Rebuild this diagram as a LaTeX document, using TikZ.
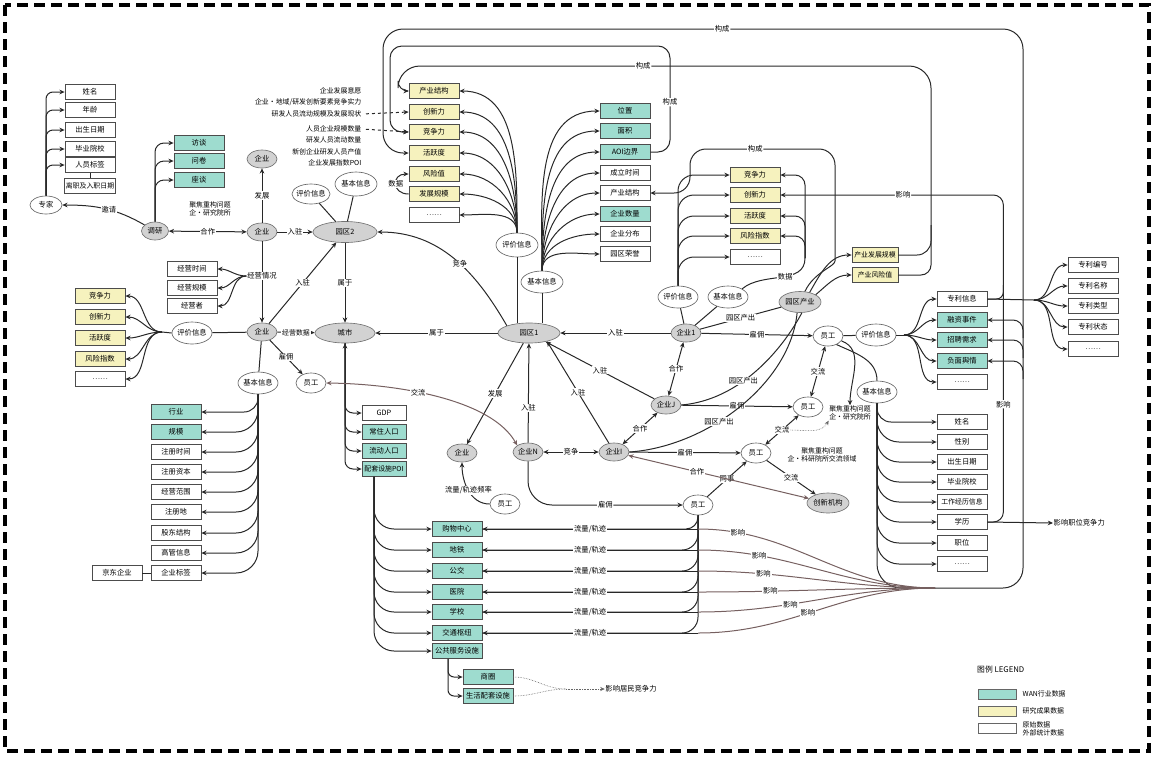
\documentclass[tikz,border=0pt]{standalone}
\usepackage{fontspec}
\setmainfont{Noto Sans CJK SC}
\usetikzlibrary{arrows.meta,shapes.geometric,calc}
\definecolor{tealc}{RGB}{158,220,207}
\definecolor{yelc}{RGB}{246,242,190}
\definecolor{ellg}{RGB}{210,210,210}
\definecolor{linec}{RGB}{40,40,40}
\definecolor{inflc}{RGB}{118,96,96}
\newcommand\myfs{\fontsize{7.3}{8}\selectfont}
\newcommand\smfs{\fontsize{6.9}{7.6}\selectfont}
\tikzset{
 box/.style={rectangle,draw=black!70,line width=0.75pt,minimum width=50pt,minimum height=15pt,inner sep=1pt,font=\myfs,fill=white},
 tbox/.style={box,fill=tealc},
 ybox/.style={box,fill=yelc},
 gell/.style={ellipse,draw=black!55,line width=0.65pt,fill=ellg,inner sep=-1.5pt,font=\myfs,minimum width=30pt,minimum height=18pt},
 well/.style={ellipse,draw=black!60,line width=0.65pt,fill=white,inner sep=-1.5pt,font=\myfs,minimum width=40pt,minimum height=22pt},
 wsm/.style={well,minimum width=30pt,minimum height=20pt},
 lbl/.style={fill=white,inner sep=0.8pt,font=\myfs},
 txt/.style={font=\smfs,inner sep=0.5pt,align=center},
 con/.style={draw=linec,line width=1pt},
 arr/.style={con,-{Stealth[length=5.2pt,width=4.6pt]}},
 arrS/.style={con,{Stealth[length=5.2pt,width=4.6pt]}-},
 darr/.style={con,{Stealth[length=5.2pt,width=4.6pt]}-{Stealth[length=5.2pt,width=4.6pt]}},
 infl/.style={draw=inflc,line width=1pt},
 dotl/.style={draw=black!60,line width=0.6pt,densely dotted},
}
\begin{document}
\begin{tikzpicture}[x=1pt,y=-1pt]
\path[use as bounding box] (0,0) rectangle (1154,756);
\draw[line width=3.5pt,dash pattern=on 11pt off 6pt] (5,5) rectangle (1149,751);

% ================= left cluster =================
\node[box] (L1) at (90,92) {姓名};
\node[box] (L2) at (90,110) {年龄};
\node[box] (L3) at (90,130) {出生日期};
\node[box] (L4) at (90,149) {毕业院校};
\node[box] (L5) at (90,165) {人员标签};
\node[box,font=\smfs] (L6) at (90,186) {离职及入职日期};
\draw[con] (L5) -- (L6);
\node[well,minimum width=32pt,minimum height=18pt] (zj) at (46,205) {专家};
\foreach \b in {L1,L2,L3,L4,L5} \draw[arr,rounded corners=7pt] (zj.north) |- (\b.west);

\node[gell,minimum width=27pt] (dy) at (155,231) {调研};
\node[tbox] (T01) at (199,143) {访谈};
\node[tbox] (T02) at (199,161) {问卷};
\node[tbox] (T03) at (199,180) {座谈};
\foreach \b in {T01,T02,T03} \draw[arr,rounded corners=9pt] (dy.north) |- (\b.west);
\draw[arr] (dy.150) to[out=150,in=0] node[lbl,pos=0.45]{邀请} (zj.east);

\node[gell] (qyA) at (262,159) {企业};
\node[gell] (qyB) at (262,232) {企业};
\node[gell] (qyC) at (262,332) {企业};
\draw[darr] (dy) -- node[lbl]{合作} (qyB);
\node[txt] (t1) at (210,209) {聚焦重构问题\\企·研究院所};
\draw[arr] (qyB) -- node[lbl]{发展} (qyA);
\node[gell,minimum width=64pt,minimum height=21pt] (yq2) at (345,232) {园区2};
\draw[arr] (qyB) -- node[lbl]{入驻} (yq2);
\node[well,minimum width=38pt,minimum height=20pt] (pj2) at (311,194) {评价信息};
\node[well,minimum width=42pt,minimum height=24pt] (jb2) at (356,184) {基本信息};
\draw[con] (pj2) -- (yq2);
\draw[con] (jb2) -- (yq2);
\node[gell,minimum width=60pt,minimum height=20pt] (cs) at (345,333) {城市};
\draw[arr] (yq2) -- node[lbl]{属于} (cs);
\draw[arr] (qyC) -- node[lbl]{入驻} (yq2);
\draw[arr] (qyC) -- node[lbl,font=\smfs]{经营数据} (cs);

\draw[arr] (qyB) -- (qyC);
\node[lbl] (jyqk) at (262,276) {经营情况};
\node[box] (JY1) at (192,269) {经营时间};
\node[box] (JY2) at (192,288) {经营规模};
\node[box] (JY3) at (192,306) {经营者};
\foreach \b in {JY1,JY2,JY3} \draw[arr] (jyqk.west) to[out=180,in=0] (\b.east);

\node[well] (pj3) at (192,333) {评价信息};
\draw[con] (pj3) -- (qyC);
\coordinate (f3) at (162,332);
\draw[con] (pj3.west) -- (f3);
\node[ybox] (Y31) at (100,296) {竞争力};
\node[ybox] (Y32) at (100,317) {创新力};
\node[ybox] (Y33) at (100,338) {活跃度};
\node[ybox] (Y34) at (100,359) {风险指数};
\node[box] (Y35) at (100,379) {……};
\foreach \b in {Y31,Y32,Y33,Y34,Y35} \draw[arr] (f3) to[out=180,in=0] (\b.east);

\node[well] (jb3) at (258,383) {基本信息};
\draw[con] (qyC) -- (jb3);
\node[wsm] (yg1) at (311,383) {员工};
\draw[arr] (qyC) -- node[lbl]{雇佣} (yg1);
\node[tbox] (B31) at (176,412) {行业};
\node[tbox] (B32) at (176,432) {规模};
\node[box] (B33) at (176,452) {注册时间};
\node[box] (B34) at (176,472) {注册资本};
\node[box] (B35) at (176,492) {经营范围};
\node[box] (B36) at (176,512) {注册地};
\node[box] (B37) at (176,533) {股东结构};
\node[box] (B38) at (176,553) {高管信息};
\node[box] (B39) at (176,573) {企业标签};
\foreach \b/\r in {B31/14,B32/22,B33/22,B34/22,B35/22,B36/22,B37/22,B38/22,B39/22}
  \draw[arr,rounded corners=\r pt] (jb3.south) |- (\b.east);
\node[box] (jd) at (117,573) {京东企业};
\draw[con] (jd) -- (B39);

% ================= city boxes =================
\node[box,minimum width=44pt] (C1) at (384,413) {GDP};
\node[tbox,minimum width=44pt] (C2) at (384,432) {常住人口};
\node[tbox,minimum width=44pt] (C3) at (384,451) {流动人口};
\node[tbox,minimum width=44pt,font=\smfs] (C4) at (384,469) {配套设施POI};
\foreach \b in {C1,C2,C3,C4} \draw[arr,rounded corners=8pt] (cs.south) |- (\b.west);
\draw[arrS] (cs.south) -- ++(0,12);

\node[tbox] (F1) at (457,529) {购物中心};
\node[tbox] (F2) at (457,550) {地铁};
\node[tbox] (F3) at (457,571) {公交};
\node[tbox] (F4) at (457,592) {医院};
\node[tbox] (F5) at (457,612) {学校};
\node[tbox] (F6) at (457,633) {交通枢纽};
\node[tbox] (F7) at (457,651) {公共服务设施};
\coordinate (poi) at ($(C4.south)+(-10,0)$);
\foreach \b in {F1,F2,F3,F4,F5,F6,F7} \draw[arr,rounded corners=20pt] (poi) |- (\b.west);
\node[tbox] (S1) at (488,677) {商圈};
\node[tbox] (S2) at (488,696) {生活配套设施};
\coordinate (f7s) at ($(F7.south)+(-9,0)$);
\foreach \b in {S1,S2} \draw[arr,rounded corners=6pt] (f7s) |- (\b.west);
\node[txt,font=\myfs] (yxjz) at (631,689) {影响居民竞争力};
\coordinate (sm) at (566,689);
\draw[dotl] (S1.east) to[out=0,in=180] (sm);
\draw[dotl] (S2.east) to[out=0,in=180] (sm);
\draw[dotl,-{Stealth[length=4.5pt,width=4pt]}] (sm) -- (yxjz.west);

% ================= centre =================
\node[gell,minimum width=62pt,minimum height=20pt] (yq1) at (529,333) {园区1};
\draw[arr] (yq1) -- node[lbl]{属于} (cs);
\draw[arr] (yq1.north west) to[out=120,in=0] node[lbl,pos=0.45]{竞争} (yq2.east);

\node[ybox] (Y11) at (434,91) {产业结构};
\node[ybox] (Y12) at (434,112) {创新力};
\node[ybox] (Y13) at (434,132) {竞争力};
\node[ybox] (Y14) at (434,153) {活跃度};
\node[ybox] (Y15) at (434,174) {风险值};
\node[ybox] (Y16) at (434,194) {发展规模};
\node[box] (Y17) at (434,215) {……};
\node[well,minimum width=42pt,minimum height=24pt] (pj1) at (517,245) {评价信息};
\foreach \b in {Y11,Y12,Y13,Y14,Y15,Y16,Y17} \draw[arr] (pj1.north) to[out=90,in=0] (\b.east);
\draw[con] (pj1.south) -- (pj1.south |- yq1.north);

\node[tbox] (T11) at (625,111) {位置};
\node[tbox] (T12) at (625,131) {面积};
\node[tbox] (T13) at (625,152) {AOI边界};
\node[box] (T14) at (625,173) {成立时间};
\node[box] (T15) at (625,193) {产业结构};
\node[tbox] (T16) at (625,214) {企业数量};
\node[box] (T17) at (625,234) {企业分布};
\node[box] (T18) at (625,254) {园区荣誉};
\node[well,minimum width=42pt,minimum height=22pt] (jb1) at (542,282) {基本信息};
\foreach \b in {T11,T12,T13,T14,T15,T16,T17,T18} \draw[arr] (jb1.north) to[out=90,in=180] (\b.west);
\draw[con] (jb1.south) -- (jb1.south |- yq1.north);

\node[txt,anchor=east] (tA1) at (362,91) {企业发展意愿};
\node[txt,anchor=east] (tA2) at (362,102) {企业·地域/研发创新要素竞争实力};
\node[txt,anchor=east] (tA3) at (362,114) {研发人员流动规模及发展现状};
\node[txt,anchor=east] (tB1) at (362,129) {人员企业规模数量};
\node[txt,anchor=east] (tB2) at (362,140) {研发人员流动数量};
\node[txt,anchor=east] (tB3) at (362,152) {新创企业研发人员产值};
\node[txt,anchor=east] (tB4) at (362,163) {企业发展指数POI};
\draw[arr,dashed,shorten <=4pt] (tA3.east) -- (Y12.west);
\draw[arr,dashed,shorten <=4pt] (tB1.east) -- (Y13.west);
\draw[arr] (Y16.west) to[out=180,in=180,looseness=2.2] node[lbl,pos=0.5]{数据} (Y15.west);

% ================= enterprises =================
\node[gell] (q1) at (686,333) {企业1};
\node[gell] (qJ) at (666,405) {企业J};
\node[gell] (qI) at (614,452) {企业I};
\node[gell] (qN) at (528,452) {企业N};
\node[gell] (qx) at (462,453) {企业};
\node[wsm] (yg5) at (505,504) {员工};
\node[wsm] (yg4) at (698,505) {员工};
\node[wsm] (yg1b) at (828,336) {员工};
\node[wsm] (yg2) at (808,407) {员工};
\node[wsm] (yg3) at (756,453) {员工};
\node[gell,minimum width=42pt,minimum height=20pt] (cx) at (828,503) {创新机构};
\node[gell,minimum width=42pt,minimum height=21pt] (yqcy) at (800,302) {园区产业};
\node[well] (pj1b) at (678,297) {评价信息};
\node[well] (jb1b) at (728,297) {基本信息};

\draw[arr] (q1) -- node[lbl]{入驻} (yq1);
\draw[arr] (q1) -- node[lbl]{雇佣} (yg1b);
\draw[darr] (q1) -- node[lbl]{合作} (qJ);
\draw[arr] (qJ) -- node[lbl]{入驻} (yq1);
\draw[arr] (qJ) -- node[lbl]{雇佣} (yg2);
\draw[arr] (qI.120) -- node[lbl]{入驻} (yq1.-25);
\draw[darr] (qI) -- node[lbl]{合作} (qJ);
\draw[arr] (qI) -- node[lbl]{雇佣} (yg3);
\draw[darr] (qN) -- node[lbl]{竞争} (qI);
\draw[arr] (qN) -- node[lbl,pos=0.35]{入驻} (yq1);
\draw[arr] (yq1) -- node[lbl]{发展} (qx);
\draw[arr] (yg5.west) to[out=180,in=-90] node[lbl,pos=0.5]{流量/轨迹频率} (qx.south);
\draw[con] (q1) -- node[lbl]{园区产出} (yqcy);
\draw[con] (qJ.east) .. controls (740,400) and (782,350) .. node[lbl,pos=0.4]{园区产出} (yqcy.-80);
\draw[con] (qI.east) .. controls (705,447) and (790,385) .. node[lbl,pos=0.4]{园区产出} (yqcy.-105);
\draw[con] (pj1b) -- (q1);
\draw[con] (jb1b) -- (q1);
\draw[arr,rounded corners=24pt] (qN.south) |- node[lbl,pos=0.75]{雇佣} (yg4.west);
\draw[arr] (yg4) -- node[lbl]{同事} (yg3);
\draw[darr,draw=inflc] (cx) -- node[lbl,pos=0.62]{合作} (qI);
\draw[arr] (yg3) -- node[lbl]{交流} (cx);
\draw[darr] (yg2) -- node[lbl] (jl2) {交流} (yg3);
\draw[darr] (yg1b) -- node[lbl]{交流} (yg2);
\node[txt] (tx1) at (822,455) {聚焦重构问题\\企·科研院所交流领域};
\node[txt] (tx2) at (850,413) {聚焦重构问题\\企·研究院所};
\draw[dotl,-{Stealth[length=4.5pt,width=4pt]}] (jl2.east) to[out=0,in=-120] (tx2.south west);
\draw[arr] (yg1b.-20) to[out=-20,in=90] (tx2.north);
\draw[darr,draw=inflc] (yg1.east) .. controls (400,384) and (492,400) .. node[lbl,pos=0.4]{交流} (qN.north west);

% yellow boxes of enterprise 1
\node[ybox] (Y1b1) at (755,175) {竞争力};
\node[ybox] (Y1b2) at (755,195) {创新力};
\node[ybox] (Y1b3) at (755,216) {活跃度};
\node[ybox] (Y1b4) at (755,236) {风险指数};
\node[box] (Y1b5) at (755,257) {……};
\foreach \b in {Y1b1,Y1b2,Y1b3,Y1b4,Y1b5} \draw[arr,rounded corners=16pt] (pj1b.north) |- (\b.west);
\coordinate (sj) at (805,258);
\draw[con] (jb1b.30) to[out=40,in=-90] node[lbl,pos=0.55]{数据} (sj);
\foreach \b in {Y1b1,Y1b3,Y1b4} \draw[arr,rounded corners=10pt] (sj) |- (\b.east);

\node[ybox,minimum width=46pt,font=\smfs] (CY1) at (875,255) {产业发展规模};
\node[ybox,minimum width=46pt,font=\smfs] (CY2) at (875,275) {产业风险值};
\draw[arr] (yqcy.45) to[out=60,in=180] (CY1.west);
\draw[arr] (yqcy.25) to[out=40,in=180] (CY2.west);

% ================= right side =================
\node[well] (pjR) at (876,335) {评价信息};
\node[well] (jbR) at (877,392) {基本信息};
\draw[con] (yg1b) -- (pjR);
\draw[con] (yg1b.-45) to[out=-25,in=90] (jbR.north);
\node[box] (ZL) at (962,299) {专利信息};
\node[tbox] (R2) at (962,320) {融资事件};
\node[tbox] (R3) at (962,340) {招聘需求};
\node[tbox] (R4) at (962,361) {负面舆情};
\node[box] (R5) at (962,382) {……};
\coordinate (pjf) at (904,335);
\draw[con] (pjR.east) -- (pjf);
\foreach \b in {ZL,R2,R3,R4,R5} \draw[arr] (pjf) to[out=0,in=180] (\b.west);
\coordinate (zlf) at (1034,300);
\draw[con] (ZL.east) -- (zlf);
\node[box] (Z1) at (1093,265) {专利编号};
\node[box] (Z2) at (1093,286) {专利名称};
\node[box] (Z3) at (1093,306) {专利类型};
\node[box] (Z4) at (1093,327) {专利状态};
\node[box] (Z5) at (1093,349) {……};
\foreach \b in {Z1,Z2,Z3,Z4,Z5} \draw[arr] (zlf) to[out=0,in=180] (\b.west);

\node[box] (P1) at (962,422) {姓名};
\node[box] (P2) at (962,442) {性别};
\node[box] (P3) at (962,462) {出生日期};
\node[box] (P4) at (962,482) {毕业院校};
\node[box,font=\smfs] (P5) at (962,502) {工作经历信息};
\node[box] (P6) at (962,522) {学历};
\node[box] (P7) at (962,543) {职位};
\node[box] (P8) at (962,564) {……};
\foreach \b/\r in {P1/14,P2/22,P3/22,P4/22,P5/22,P6/22,P7/22,P8/22}
  \draw[arr,rounded corners=\r pt] (jbR.south) |- (\b.west);
\node[txt,anchor=west,font=\myfs] (yxzw) at (1053,523) {影响职位竞争力};
\draw[arr] (P6.east) -- (yxzw.west);
\coordinate (v1) at ($(P6.east)+(16,0)$);
\draw[arr,rounded corners=10pt] (P6.east) -| node[lbl,pos=0.68]{影响} (v1 |- Y1b2.east) -- node[lbl,pos=0.45]{影响} (Y1b2.east);
\draw[con,rounded corners=7pt] (ZL.east) -| ($(v1 |- ZL.east)+(0,-14)$);

% ================= big loops =================
\coordinate (mg) at (935,588);
\coordinate (bt) at (1023,588);
\draw[con,rounded corners=24pt] (jbR.south) |- (mg);
\draw[arr,rounded corners=20pt] (mg) -- (bt) -- (1023,29) -- node[lbl,pos=0.47]{构成} (383,29) -- (383,153) -- (Y14.west);
\foreach \b in {R2,R3,R4} \draw[arr,rounded corners=10pt] ($(bt |- \b.east)+(0,18)$) |- (\b.east);
\draw[arr,rounded corners=12pt] (T13.east) -- (670,152) -- node[lbl,pos=0.47]{构成} (670,46) -- (390,46) -- (390,132) -- (Y13.west);
\draw[con,rounded corners=14pt] (CY1.east) -| (931,225);
\draw[arr,rounded corners=10pt] (CY2.east) -| (931,225) [rounded corners=22pt] -- (931,66) -- node[lbl,pos=0.54]{构成} (398,66) [rounded corners=10pt] -- (398,91) -- (Y11.west);
\draw[arr,rounded corners=16pt] (yqcy.65) to[out=65,in=-90] (835,245) -- (835,149) -- node[lbl,pos=0.55]{构成} (690,149) -- (690,193) -- (T15.east);

% ================= facilities flows =================
\foreach \f/\r in {F1/12,F2/16,F3/16,F4/16,F5/16,F6/16}
  \draw[con,rounded corners=\r pt] (yg4.south) |- (\f.east);
\foreach \f/\p in {F1/0.15,F2/0.24,F3/0.26,F4/0.29,F5/0.38,F6/0.46}
  \draw[infl] (yg4.south |- \f.east) to[out=0,in=180] node[lbl,pos=\p]{影响} (mg);
\foreach \f in {F1,F2,F3,F4,F5,F6}
  \draw[arrS] (\f.east) -- node[lbl]{流量/轨迹} (yg4.south |- \f.east);

% ================= legend =================
\node[anchor=west,font=\fontsize{7.8}{8.5}\selectfont,inner sep=0pt] (lgt) at (977,670) {图例 LEGEND};
\node[draw=black!60,fill=tealc,minimum width=38pt,minimum height=10pt,inner sep=0pt] (lg1) at (997,694) {};
\node[draw=black!60,fill=yelc,minimum width=38pt,minimum height=10pt,inner sep=0pt] (lg2) at (997,711) {};
\node[draw=black!60,fill=white,minimum width=38pt,minimum height=10pt,inner sep=0pt] (lg3) at (997,728) {};
\node[txt,anchor=west] (lgx1) at (1022,694) {WAN行业数据};
\node[txt,anchor=west] (lgx2) at (1022,711) {研究成果数据};
\node[txt,anchor=west,align=left] (lgx3) at (1022,729) {原始数据\\外部统计数据};
\end{tikzpicture}
\end{document}
